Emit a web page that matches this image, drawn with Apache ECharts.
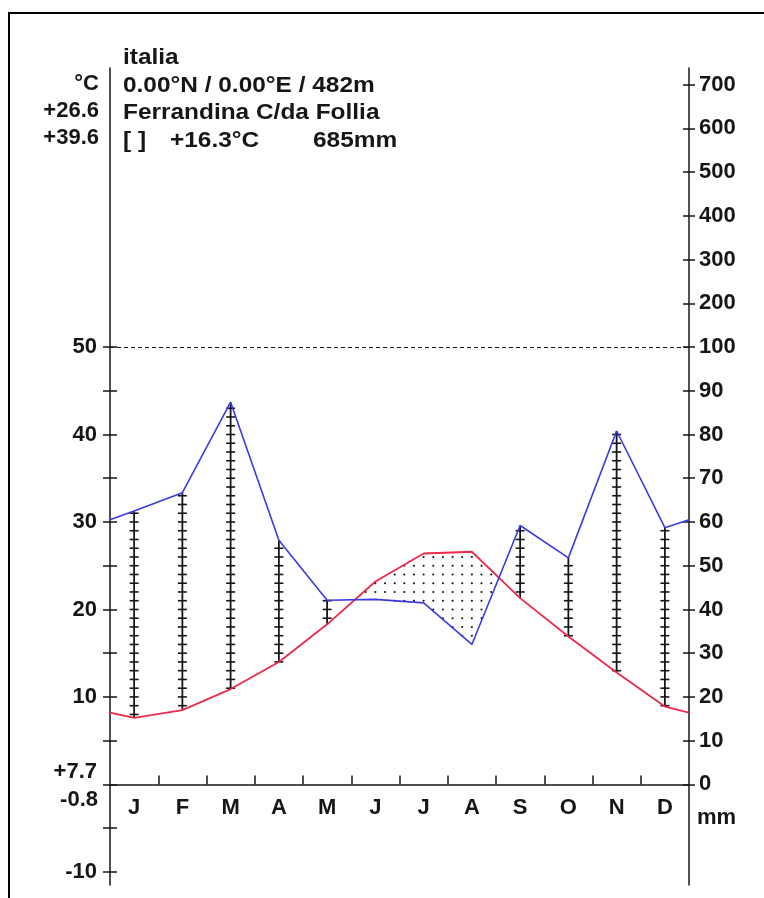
<!DOCTYPE html>
<html>
<head>
<meta charset="utf-8">
<script src="https://cdn.jsdelivr.net/npm/echarts@6/dist/echarts.min.js"></script>
<style>
  html, body { margin: 0; padding: 0; background: #fff; }
  #chart { width: 764px; height: 898px; }
</style>
</head>
<body>
<div id="chart"></div>
<script>
// monthly climate values
const months = ["J", "F", "M", "A", "M", "J", "J", "A", "S", "O", "N", "D"];
const temperature = [7.6, 8.5, 10.9, 14.0, 18.3, 23.2, 26.4, 26.6, 21.3, 16.9, 12.8, 8.9];
const precipitation = [62.5, 66.7, 87.4, 55.8, 42.1, 42.3, 41.5, 32.0, 59.2, 51.8, 80.8, 58.7];
// value where the curves meet the left/right axes
const edgeTemperature = 8.2;
const edgePrecipitation = 60.5;

const tempTicks = [-10, -5, 0, 5, 10, 15, 20, 25, 30, 35, 40, 45, 50];
const tempLabels = [-10, 10, 20, 30, 40, 50];
const precipTicks = [0, 10, 20, 30, 40, 50, 60, 70, 80, 90, 100, 200, 300, 400, 500, 600, 700];

const headerLines = ["italia", "0.00°N / 0.00°E / 482m", "Ferrandina C/da Follia"];
const summary = ["[ ]", "+16.3°C", "685mm"];
const sideLabels = ["°C", "+26.6", "+39.6"];
const zeroLabels = ["+7.7", "-0.8"];

// 10 °C = 20 mm up to 100 mm, above that 1/10 scale
function precToT(p) { return p <= 100 ? p / 2 : 50 + (p - 100) / 20; }
function tToPrec(t) { return t <= 50 ? t * 2 : 100 + (t - 50) * 20; }

const FONT = "Liberation Sans, Arial, sans-serif";
const INK = "#161616";

const tLine = [[0, edgeTemperature]]
  .concat(temperature.map((v, i) => [i + 0.5, v]))
  .concat([[12, edgeTemperature]]);
const pLine = [[0, precToT(edgePrecipitation)]]
  .concat(precipitation.map((v, i) => [i + 0.5, precToT(v)]))
  .concat([[12, precToT(edgePrecipitation)]]);

function interp(line, x) {
  for (let i = 0; i < line.length - 1; i++) {
    const a = line[i], b = line[i + 1];
    if (x >= a[0] && x <= b[0]) {
      return a[1] + (b[1] - a[1]) * (x - a[0]) / (b[0] - a[0]);
    }
  }
  return line[line.length - 1][1];
}

const chart = echarts.init(document.getElementById("chart"));

const labelStyle = { fontFamily: FONT, fontWeight: "bold", fontSize: 22, color: INK };
const yRange = { min: -11.5, max: 81.9 };

const graphics = [
  {
    type: "rect",
    shape: { x: 9, y: 13, width: 800, height: 950 },
    style: { fill: "none", stroke: "#000", lineWidth: 2 },
  },
];
headerLines.forEach((txt, i) => {
  graphics.push({
    type: "text", x: 123, y: 58 + i * 27.7, scaleX: 1.11,
    style: { text: txt, font: "bold 22px " + FONT, fill: INK, textAlign: "left", textVerticalAlign: "middle" },
  });
});
[123, 170, 313].forEach((x, i) => {
  graphics.push({
    type: "text", x: x, y: 141, scaleX: 1.11,
    style: { text: summary[i], font: "bold 22px " + FONT, fill: INK, textAlign: "left", textVerticalAlign: "middle" },
  });
});
sideLabels.forEach((txt, i) => {
  graphics.push({
    type: "text", x: 99, y: 84 + i * 27,
    style: { text: txt, font: "bold 22px " + FONT, fill: INK, textAlign: "right", textVerticalAlign: "middle" },
  });
});
graphics.push({
  type: "text", x: 97, y: 772,
  style: { text: zeroLabels[0], font: "bold 22px " + FONT, fill: INK, textAlign: "right", textVerticalAlign: "middle" },
});
graphics.push({
  type: "text", x: 98, y: 800,
  style: { text: zeroLabels[1], font: "bold 22px " + FONT, fill: INK, textAlign: "right", textVerticalAlign: "middle" },
});
graphics.push({
  type: "text", x: 697, y: 818,
  style: { text: "mm", font: "bold 22px " + FONT, fill: INK, textAlign: "left", textVerticalAlign: "middle" },
});

const option = {
  animation: false,
  backgroundColor: "#fff",
  grid: { left: 110, right: 75, top: 68, bottom: 13, outerBoundsMode: "none", containLabel: false },
  xAxis: {
    type: "value", min: 0, max: 12,
    splitLine: { show: false },
    axisLine: { onZero: true, onZeroAxisIndex: 0, lineStyle: { color: INK, width: 1.5 } },
    axisTick: { customValues: [1, 2, 3, 4, 5, 6, 7, 8, 9, 10, 11], inside: true, length: 9, lineStyle: { color: INK, width: 1.5 } },
    axisLabel: { show: false },
  },
  yAxis: [
    Object.assign({
      type: "value", position: "left",
      splitLine: { show: false },
      axisLine: { show: true, lineStyle: { color: INK, width: 1.5 } },
      axisTick: { customValues: tempTicks, length: 7, lineStyle: { color: INK, width: 1.5 } },
      axisLabel: Object.assign({ customValues: tempLabels, margin: 13 }, labelStyle),
    }, yRange),
    Object.assign({
      type: "value", position: "left",
      splitLine: { show: false },
      axisLine: { show: false },
      axisTick: { customValues: tempTicks, inside: true, length: 7, lineStyle: { color: INK, width: 1.5 } },
      axisLabel: { show: false },
    }, yRange),
    Object.assign({
      type: "value", position: "right",
      splitLine: { show: false },
      axisLine: { show: true, lineStyle: { color: INK, width: 1.5 } },
      axisTick: { customValues: precipTicks.map(precToT), length: 6, lineStyle: { color: INK, width: 1.5 } },
      axisLabel: Object.assign({
        customValues: precipTicks.map(precToT),
        formatter: (v) => String(Math.round(tToPrec(v))),
        margin: 10,
      }, labelStyle),
    }, yRange),
    Object.assign({
      type: "value", position: "right",
      splitLine: { show: false },
      axisLine: { show: false },
      axisTick: { customValues: precipTicks.map(precToT), inside: true, length: 6, lineStyle: { color: INK, width: 1.5 } },
      axisLabel: { show: false },
    }, yRange),
  ],
  graphic: graphics,
  series: [
    {
      // month letters under the zero line
      type: "custom",
      z: 5,
      data: months.map((m, i) => [i + 0.5, 0]),
      renderItem(params, api) {
        const c = api.coord([api.value(0), 0]);
        return {
          type: "text", x: c[0], y: c[1] + 24,
          style: { text: months[params.dataIndex], font: "bold 22px " + FONT, fill: INK, textAlign: "center", textVerticalAlign: "middle" },
        };
      },
    },
    {
      // humid months: vertical hatch with 1 °C ticks
      type: "custom",
      z: 2,
      data: months.map((m, i) => [i + 0.5, temperature[i], precToT(precipitation[i])]),
      renderItem(params, api) {
        const x = api.value(0), t = api.value(1), p = api.value(2);
        if (p <= t) return;
        const top = api.coord([x, p]);
        const bot = api.coord([x, t]);
        const children = [{
          type: "line",
          shape: { x1: top[0], y1: top[1], x2: bot[0], y2: bot[1] },
          style: { stroke: INK, lineWidth: 1.8 },
        }];
        for (let k = Math.ceil(t); k <= Math.floor(p); k++) {
          const c = api.coord([x, k]);
          children.push({
            type: "line",
            shape: { x1: c[0] - 4.5, y1: c[1], x2: c[0] + 4.5, y2: c[1] },
            style: { stroke: INK, lineWidth: 1.6 },
          });
        }
        return { type: "group", children };
      },
    },
    {
      // dry period: dotted area
      type: "custom",
      z: 2,
      data: [[0, 0]],
      renderItem(params, api) {
        const children = [];
        for (let k = 0; k < 60; k++) {
          const x = 0.1 + 0.2 * k;
          const tv = interp(tLine, x), pv = interp(pLine, x);
          if (tv <= pv) continue;
          for (let y = Math.floor(pv) + 1; y < tv; y++) {
            const c = api.coord([x, y]);
            children.push({ type: "circle", shape: { cx: c[0], cy: c[1], r: 1.05 }, style: { fill: "#111" } });
          }
        }
        return { type: "group", children };
      },
    },
    {
      name: "Temperatur",
      type: "line",
      z: 4,
      data: tLine,
      symbol: "none",
      lineStyle: { color: "#ec2a4e", width: 1.8 },
      markLine: {
        silent: true,
        symbol: ["none", "none"],
        label: { show: false },
        lineStyle: { color: INK, type: [4, 3], width: 1 },
        data: [{ yAxis: 50 }],
      },
    },
    {
      name: "Niederschlag",
      type: "line",
      z: 4,
      data: pLine,
      symbol: "none",
      lineStyle: { color: "#3a3ae0", width: 1.6 },
    },
  ],
};

chart.setOption(option);
</script>
</body>
</html>
